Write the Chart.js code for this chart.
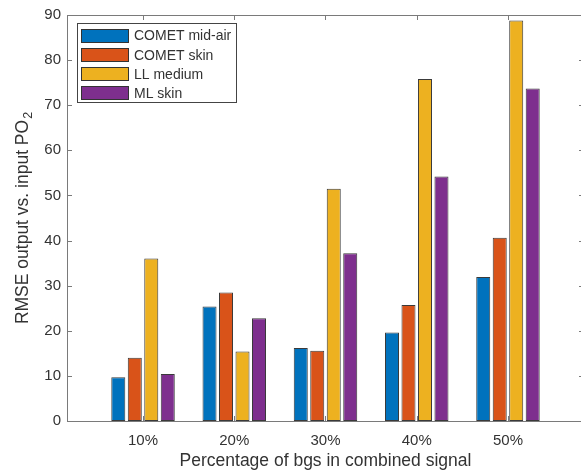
<!DOCTYPE html>
<html>
<head>
<meta charset="utf-8">
<title>RMSE by background share</title>
<script src="https://cdn.jsdelivr.net/npm/chart.js@4.4.1/dist/chart.umd.min.js"></script>
<style>
  html, body { margin: 0; padding: 0; background: #fff; overflow: hidden; }
  canvas { display: block; }
</style>
</head>
<body>
<canvas id="rmseChart" width="590" height="474"></canvas>
<script>
// RMSE of each method per background percentage
const categories = ['10%', '20%', '30%', '40%', '50%'];
const seriesNames = ['COMET mid-air', 'COMET skin', 'LL medium', 'ML skin'];
const cometMidAir = [9.7, 25.4, 16.2, 19.6, 31.9];
const cometSkin = [14.0, 28.5, 15.6, 25.7, 40.6];
const llMedium = [36.0, 15.4, 51.5, 75.8, 88.8];
const mlSkin = [10.4, 22.8, 37.2, 54.2, 73.7];
const yTicks = [0, 10, 20, 30, 40, 50, 60, 70, 80, 90];

const colors = ['#0072BD', '#D95319', '#EDB120', '#7E2F8E'];
const FONT = '"Liberation Sans", Arial, Helvetica, sans-serif';
const TEXT = '#333333';
const AXIS = '#7a7a7a';

const series = [cometMidAir, cometSkin, llMedium, mlSkin];

// box around the axes, inward ticks, legend and y label
const axesBox = {
  id: 'axesBox',
  beforeDatasetsDraw(chart) {
    const { ctx, chartArea: a, scales: { x, y } } = chart;
    ctx.save();
    ctx.strokeStyle = AXIS;
    ctx.lineWidth = 1;
    ctx.beginPath();
    categories.forEach((_, i) => {
      const px = Math.round(x.getPixelForValue(i + 1)) + 0.5;
      ctx.moveTo(px, a.bottom);
      ctx.lineTo(px, a.bottom - 5);
      ctx.moveTo(px, a.top);
      ctx.lineTo(px, a.top + 5);
    });
    yTicks.forEach(v => {
      const py = Math.round(y.getPixelForValue(v)) + 0.5;
      ctx.moveTo(a.left, py);
      ctx.lineTo(a.left + 5, py);
      ctx.moveTo(a.right, py);
      ctx.lineTo(a.right - 5, py);
    });
    ctx.stroke();
    ctx.restore();
  },
  afterDatasetsDraw(chart) {
    const { ctx, chartArea: a } = chart;
    ctx.save();
    ctx.strokeStyle = AXIS;
    ctx.lineWidth = 1;
    ctx.strokeRect(Math.round(a.left) + 0.5, Math.round(a.top) + 0.5,
      Math.round(a.width), Math.round(a.height));
    ctx.restore();
  },
  afterDraw(chart) {
    const { ctx, chartArea: a } = chart;
    ctx.save();

    // legend
    const lx = 77, ly = 23, lw = 159, lh = 79, rowH = 19.3;
    ctx.fillStyle = '#fff';
    ctx.fillRect(lx, ly, lw, lh);
    ctx.strokeStyle = '#444';
    ctx.lineWidth = 1;
    ctx.strokeRect(lx + 0.5, ly + 0.5, lw, lh);
    ctx.font = '14px ' + FONT;
    ctx.textBaseline = 'middle';
    ctx.textAlign = 'left';
    chart.data.datasets.forEach((ds, i) => {
      const cy = ly + 12.5 + i * rowH;
      ctx.fillStyle = ds.backgroundColor;
      ctx.fillRect(lx + 4, Math.round(cy - 7), 48, 14);
      ctx.strokeStyle = '#333';
      ctx.strokeRect(lx + 4.5, Math.round(cy - 7) + 0.5, 47, 13);
      ctx.fillStyle = TEXT;
      ctx.fillText(ds.label, lx + 57, cy + 1);
    });

    // y axis label with subscript
    const main = 'RMSE output vs. input PO';
    const sub = '2';
    const cy = (a.top + a.bottom) / 2;
    ctx.font = '17.5px ' + FONT;
    const wMain = ctx.measureText(main).width;
    ctx.font = '12.5px ' + FONT;
    const wSub = ctx.measureText(sub).width;
    const total = wMain + wSub + 1;
    ctx.translate(28, cy);
    ctx.rotate(-Math.PI / 2);
    ctx.fillStyle = TEXT;
    ctx.textBaseline = 'alphabetic';
    ctx.font = '17.5px ' + FONT;
    ctx.fillText(main, -total / 2, 0);
    ctx.font = '12.5px ' + FONT;
    ctx.fillText(sub, -total / 2 + wMain + 1, 4);
    ctx.restore();
  }
};

new Chart(document.getElementById('rmseChart'), {
  type: 'bar',
  data: {
    datasets: series.map((vals, i) => ({
      label: seriesNames[i],
      data: vals.map((v, j) => ({ x: j + 1, y: v })),
      backgroundColor: colors[i],
      borderColor: '#3a3a3a',
      borderWidth: 1,
      borderSkipped: false,
      categoryPercentage: 0.723,
      barPercentage: 0.85
    }))
  },
  options: {
    responsive: false,
    animation: false,
    devicePixelRatio: 1,
    layout: { padding: { left: 0, top: 12, right: 6, bottom: 0 } },
    plugins: {
      legend: { display: false },
      tooltip: { enabled: false }
    },
    scales: {
      x: {
        type: 'linear',
        offset: false,
        min: 0.1667,
        max: 5.8333,
        grid: { display: false, drawTicks: false, offset: false },
        border: { display: false },
        afterBuildTicks: scale => {
          scale.ticks = categories.map((_, i) => ({ value: i + 1 }));
        },
        afterFit: scale => { scale.height = 53; },
        ticks: {
          autoSkip: false,
          maxRotation: 0,
          padding: 11,
          color: TEXT,
          font: { family: FONT, size: 15 },
          callback: v => categories[v - 1]
        },
        title: {
          display: true,
          text: 'Percentage of bgs in combined signal',
          color: TEXT,
          font: { family: FONT, size: 17.5 },
          padding: { top: 0, bottom: 2 }
        }
      },
      y: {
        min: 0,
        max: 90,
        grid: { display: false, drawTicks: false },
        border: { display: false },
        afterFit: scale => { scale.width = 67; },
        ticks: {
          stepSize: 10,
          padding: 6,
          color: TEXT,
          font: { family: FONT, size: 15 }
        }
      }
    }
  },
  plugins: [axesBox]
});
</script>
</body>
</html>
